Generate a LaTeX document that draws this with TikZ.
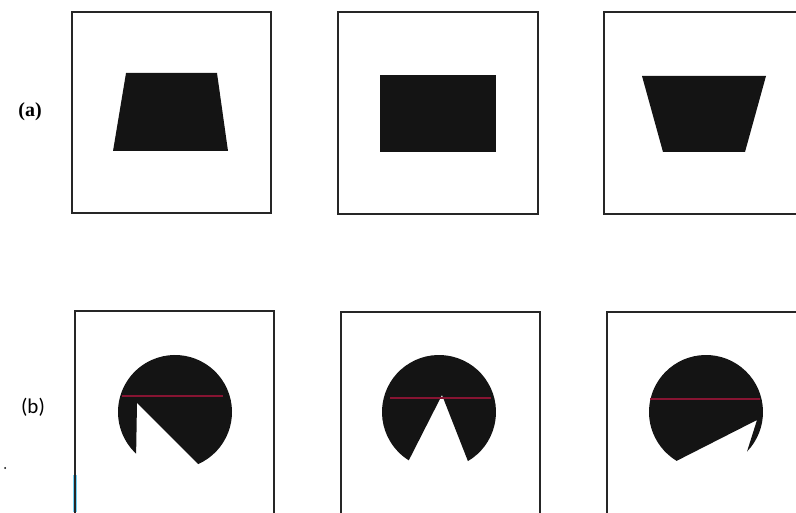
\documentclass[tikz,border=0pt]{standalone}
\usepackage{fontspec}
\setmainfont{Liberation Serif}
\newfontfamily\labfont{Carlito}
\usetikzlibrary{calc}

\definecolor{crimson}{RGB}{135,20,50}

\tikzset{
  frame/.style={draw=black!85, line width=1.6pt},
  blob/.style={fill=black!92},
  redline/.style={draw=crimson, line width=2.8pt},
}

\begin{document}
\begin{tikzpicture}[x=1pt,y=1pt]
        \useasboundingbox (0,0) rectangle (796,512);
        \clip (0,0) rectangle (796,512);

        % row (a)
        \node at (30,400)(la){\fontsize{20}{20}\selectfont\bfseries (a)};
        \draw[frame] (72,299) rectangle (271,500);
        \draw[frame] (338,298) rectangle (538,500);
        \draw[frame] (604,298) rectangle (810,500);
        \fill[blob] (113,361) -- (228,361) -- (217,439) -- (126,439) -- cycle;
        \fill[blob] (380,360) rectangle (496,437);
        \fill[blob] (663,360) -- (745,360) -- (766,436) -- (642,436) -- cycle;

        % row (b)
        \node at (33,105)(lb){\labfont\fontsize{21}{21}\selectfont (b)};
        \fill (5,44) circle (1);
        \draw[cyan!55, line width=4pt] (75,0) -- (75,37);
        \draw[frame] (75,-10) -- (75,201) -- (274,201) -- (274,-10);
        \draw[frame] (341,-10) -- (341,200) -- (540,200) -- (540,-10);
        \draw[frame] (607,-10) -- (607,200) -- (810,200);

        \coordinate (c4) at (175,100);
        \coordinate (c5) at (439,100);
        \coordinate (c6) at (706,100);
        \fill[blob] ($(c4)+(-66:57)$) arc[start angle=-66, end angle=227, radius=57] -- (137,109) -- cycle;
        \fill[blob] ($(c5)+(-59.5:57)$) arc[start angle=-59.5, end angle=238, radius=57] -- (442,117) -- cycle;
        \fill[blob] ($(c6)+(-44:57)$) arc[start angle=-44, end angle=239, radius=57] -- (757,92) -- cycle;

        \draw[redline] (122,116) -- (223,116);
        \draw[redline] (390,114) -- (491,114);
        \draw[redline] (650,113) -- (760,113);
    \end{tikzpicture}
\end{document}
